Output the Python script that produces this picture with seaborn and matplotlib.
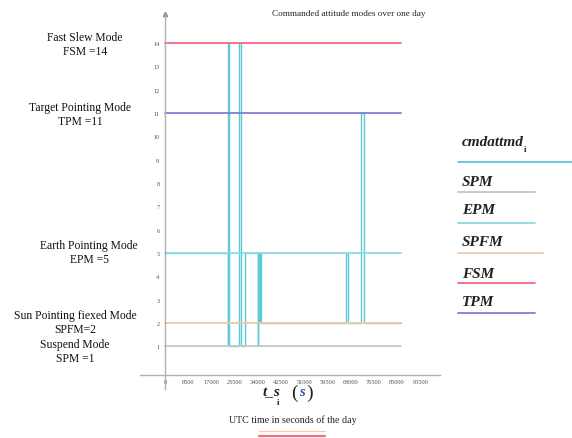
import matplotlib
matplotlib.use("Agg")
import matplotlib.pyplot as plt
from matplotlib.lines import Line2D
import seaborn as sns
import pandas as pd
import numpy as np

# ---- data ----
mode_times = [0, 23000, 23100, 23600, 27100, 27800, 29300, 33900, 34100, 34300,
              34500, 34700, 34900, 35100, 66300, 67100, 71700, 72900, 86400]
mode_values = [5, 1, 14, 1, 14, 1, 5, 1, 5, 2,
               5, 2, 5, 2, 5, 2, 11, 2, 2]
day_span = [0, 86400]
const_names = ["SPM", "EPM", "SPFM", "FSM", "TPM"]
const_values = [1, 5, 2, 14, 11]
const_colors = ["#c6c6c6", "#8fd9e6", "#f0c8a8", "#f06a7e", "#7f7fd0"]
series_color = "#5cc8d8"
x_ticks = [0, 8500, 17000, 25500, 34000, 42500, 51000, 59500, 68000, 76500, 85000, 93500]
y_ticks = list(range(1, 15))
annotations = [("Fast Slew Mode\nFSM =14", 85, 45),
               ("Target Pointing Mode\nTPM =11", 80, 115),
               ("Earth Pointing Mode\nEPM =5", 89, 253),
               ("Sun Pointing fiexed Mode\nSPFM=2", 75, 323),
               ("Suspend Mode\nSPM =1", 75, 352)]

W, H = 572, 439
def fx(x): return x / W
def fy(y): return 1 - y / H

sns.set_style("white")
plt.rcParams["font.family"] = ["Liberation Serif", "DejaVu Serif"]

fig = plt.figure(figsize=(W / 100, H / 100), dpi=100)
ax = fig.add_axes([fx(140), fy(390), 300 / W, 375 / H])

series_df = pd.DataFrame({"t": mode_times, "mode": mode_values})
sns.lineplot(data=series_df, x="t", y="mode", drawstyle="steps-post",
             color=series_color, lw=1.0, ax=ax, legend=False)

const_rows = []
for name, v in zip(const_names, const_values):
    for t in day_span:
        const_rows.append({"t": t, "v": v, "name": name})
const_df = pd.DataFrame(const_rows)
sns.lineplot(data=const_df, x="t", y="v", hue="name", hue_order=const_names,
             palette=const_colors, lw=1.3, ax=ax, legend=False)

scale = 232 / 85000
ax.set_xlim(-(165 - 140) / scale, (440 - 165) / scale)
ax.set_ylim(-0.84, 15.25)
ax.set_xticks(x_ticks)
ax.set_xticklabels([str(v) for v in x_ticks])
ax.set_yticks(y_ticks)
ax.set_yticklabels([str(v) for v in y_ticks])
ax.set_xlabel("")
ax.set_ylabel("")

for s in ["top", "right"]:
    ax.spines[s].set_visible(False)
ax.spines["left"].set_position(("data", 0))
ax.spines["bottom"].set_position(("data", -0.245))
for s in ["left", "bottom"]:
    ax.spines[s].set_color("#b0b0b0")
    ax.spines[s].set_linewidth(1.0)
ax.tick_params(axis="x", direction="in", length=2.5, width=0.6, color="#b0b0b0",
               labelsize=4.6, labelcolor="#555555", pad=3)
ax.tick_params(axis="y", direction="out", length=2, width=0.6, color="#b0b0b0",
               labelsize=4.6, labelcolor="#555555", pad=2)
ax.plot([0], [1], marker="^", markersize=3, color="#888888",
        transform=ax.get_xaxis_transform(), clip_on=False)

# title
fig.text(fx(272), fy(14), "Commanded attitude modes over one day", fontsize=6.6,
         ha="left", va="center", color="#222222")

# left annotations
for txt, x, y in annotations:
    fig.text(fx(x), fy(y), txt, fontsize=8.4, ha="center", va="center",
             linespacing=1.15, color="#111111")

# x label
fig.text(fx(271), fy(393), "t_s", fontsize=11, fontweight="bold", fontstyle="italic",
         ha="center", va="center", color="#222222")
fig.text(fx(278), fy(403), "i", fontsize=6.5, fontweight="bold",
         ha="center", va="center", color="#222222")
fig.text(fx(294), fy(393), "(", fontsize=14, ha="center", va="center", color="#222222")
fig.text(fx(302), fy(393), "s", fontsize=10.5, fontweight="bold", fontstyle="italic",
         ha="center", va="center", color="#3050b0")
fig.text(fx(310), fy(393), ")", fontsize=14, ha="center", va="center", color="#222222")
fig.text(fx(293), fy(420), "UTC time in seconds of the day", fontsize=7.2,
         ha="center", va="center", color="#222222")
fig.add_artist(Line2D([fx(259), fx(325)], [fy(432), fy(432)], color="#f5c8b0",
                      lw=0.8, transform=fig.transFigure))
fig.add_artist(Line2D([fx(259), fx(325)], [fy(437), fy(437)], color="#f07080",
                      lw=1.6, transform=fig.transFigure))

# legend
fig.text(fx(462), fy(142), "cmdattmd", fontsize=11, fontweight="bold",
         fontstyle="italic", ha="left", va="center", color="#222222")
fig.text(fx(524), fy(150), "i", fontsize=6.5, fontweight="bold",
         ha="left", va="center", color="#222222")
fig.add_artist(Line2D([fx(458), fx(572)], [fy(162.5), fy(162.5)], color=series_color,
                      lw=1.3, transform=fig.transFigure))
leg_text_y = [182, 211, 243, 274, 303]
leg_line_y = [193, 224, 254, 284, 314]
leg_line_end = [535, 535, 543, 535, 535]
for name, col, ty, ly, le in zip(const_names, const_colors, leg_text_y, leg_line_y, leg_line_end):
    fig.text(fx(462), fy(ty), name, fontsize=11, fontweight="bold",
             fontstyle="italic", ha="left", va="center", color="#222222")
    fig.add_artist(Line2D([fx(458), fx(le)], [fy(ly), fy(ly)], color=col,
                          lw=1.3, transform=fig.transFigure))

fig.savefig("out.png", dpi=100)
